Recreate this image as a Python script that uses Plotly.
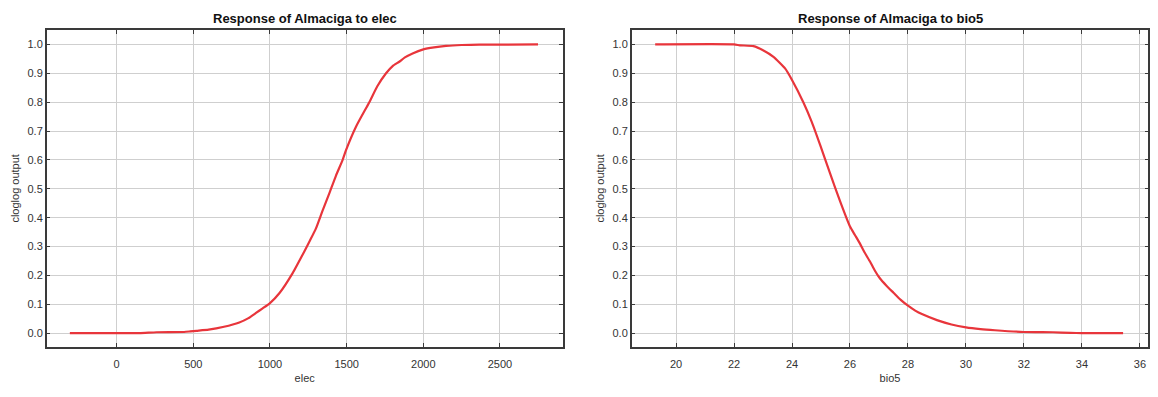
import plotly.graph_objects as go

# Left panel: response to elec
elec_x = [-305, 0, 150, 260, 440, 480, 520, 600, 700, 800, 860, 909, 950, 1000, 1061, 1148, 1224,
          1260, 1300, 1340, 1387, 1430, 1474, 1496, 1561, 1648, 1700, 1757, 1800, 1843, 1880,
          1930, 2000, 2070, 2148, 2250, 2365, 2748]
elec_y = [0.0, 0.0, 0.0, 0.003, 0.004, 0.006, 0.008, 0.012, 0.022, 0.037, 0.052, 0.07, 0.085,
          0.104, 0.138, 0.208, 0.283, 0.32, 0.363, 0.42, 0.484, 0.545, 0.6, 0.634, 0.715, 0.80,
          0.855, 0.90, 0.925, 0.94, 0.955, 0.969, 0.983, 0.99, 0.995, 0.998, 0.999, 1.0]

# Right panel: response to bio5
bio5_x = [19.28, 22.0, 22.2, 22.67, 23.0, 23.36, 23.76, 24.0, 24.39, 24.68, 24.97, 25.31, 25.66,
          26.0, 26.17, 26.34, 26.5, 26.69, 26.85, 27.03, 27.25, 27.5, 27.75, 28.0, 28.25, 28.5,
          29.0, 29.5, 30.0, 30.5, 31.0, 32.0, 33.0, 33.6, 34.0, 35.42]
bio5_y = [1.0, 1.0, 0.997, 0.994, 0.98, 0.957, 0.917, 0.877, 0.80, 0.732, 0.652, 0.554, 0.456,
          0.369, 0.34, 0.311, 0.28, 0.248, 0.218, 0.19, 0.165, 0.14, 0.115, 0.095, 0.078, 0.065,
          0.045, 0.03, 0.02, 0.014, 0.01, 0.004, 0.003, 0.001, 0.0, 0.0]

titles = ["Response of Almaciga to elec", "Response of Almaciga to bio5"]
xtitles = ["elec", "bio5"]
ytitle = "cloglog output"

W, H = 1158, 397
LINE = "#e8353b"
AX = "#3a3a3a"
GRID = "#cfcfcf"
FONT = "Liberation Sans, Arial, sans-serif"
TXT = "#333333"

fig = go.Figure()
fig.add_trace(go.Scatter(x=elec_x, y=elec_y, mode="lines",
                         line=dict(color=LINE, width=2.2, shape="spline", smoothing=0.5),
                         xaxis="x", yaxis="y", showlegend=False))
fig.add_trace(go.Scatter(x=bio5_x, y=bio5_y, mode="lines",
                         line=dict(color=LINE, width=2.2, shape="spline", smoothing=0.5),
                         xaxis="x2", yaxis="y2", showlegend=False))

ydom = [1 - 346.7 / H, 1 - 30 / H]
xdom1 = [46.7 / W, 562.7 / W]
xdom2 = [631.7 / W, 1148.3 / W]

common_axis = dict(showline=True, linecolor=AX, linewidth=1.5, mirror="ticks",
                   ticks="inside", ticklen=4, tickcolor=AX, tickwidth=1.2,
                   showgrid=True, gridcolor=GRID, gridwidth=1, zeroline=False,
                   tickfont=dict(family=FONT, size=11, color=TXT))

xextra = dict(ticklabelstandoff=6)
tfont = dict(family=FONT, size=11, color=TXT)

fig.update_layout(
    width=W, height=H,
    margin=dict(l=0, r=0, t=0, b=0),
    paper_bgcolor="white", plot_bgcolor="white",
    font=dict(family=FONT, color=TXT),
    xaxis=dict(domain=xdom1, range=[-456, 2909], tick0=0, dtick=500, anchor="y",
               title=dict(text=xtitles[0], font=tfont, standoff=6), **xextra,
               **common_axis),
    yaxis=dict(domain=ydom, range=[-0.047, 1.05], tick0=0, dtick=0.1, tickformat=".1f", anchor="x",
               title=dict(text=ytitle, font=tfont, standoff=6),
               **common_axis),
    xaxis2=dict(domain=xdom2, range=[18.47, 36.29], tick0=20, dtick=2, anchor="y2",
                title=dict(text=xtitles[1], font=tfont, standoff=6), **xextra,
                **common_axis),
    yaxis2=dict(domain=ydom, range=[-0.047, 1.05], tick0=0, dtick=0.1, tickformat=".1f", anchor="x2",
                title=dict(text=ytitle, font=tfont, standoff=6),
                **common_axis),
    annotations=[
        dict(text="<b>" + titles[0] + "</b>", x=(xdom1[0] + xdom1[1]) / 2, y=1 - 19 / H,
             xref="paper", yref="paper", showarrow=False, xanchor="center", yanchor="middle",
             font=dict(family=FONT, size=13, color="#111111")),
        dict(text="<b>" + titles[1] + "</b>", x=(xdom2[0] + xdom2[1]) / 2, y=1 - 19 / H,
             xref="paper", yref="paper", showarrow=False, xanchor="center", yanchor="middle",
             font=dict(family=FONT, size=13, color="#111111")),
    ],
)

fig.write_html("out.html")
